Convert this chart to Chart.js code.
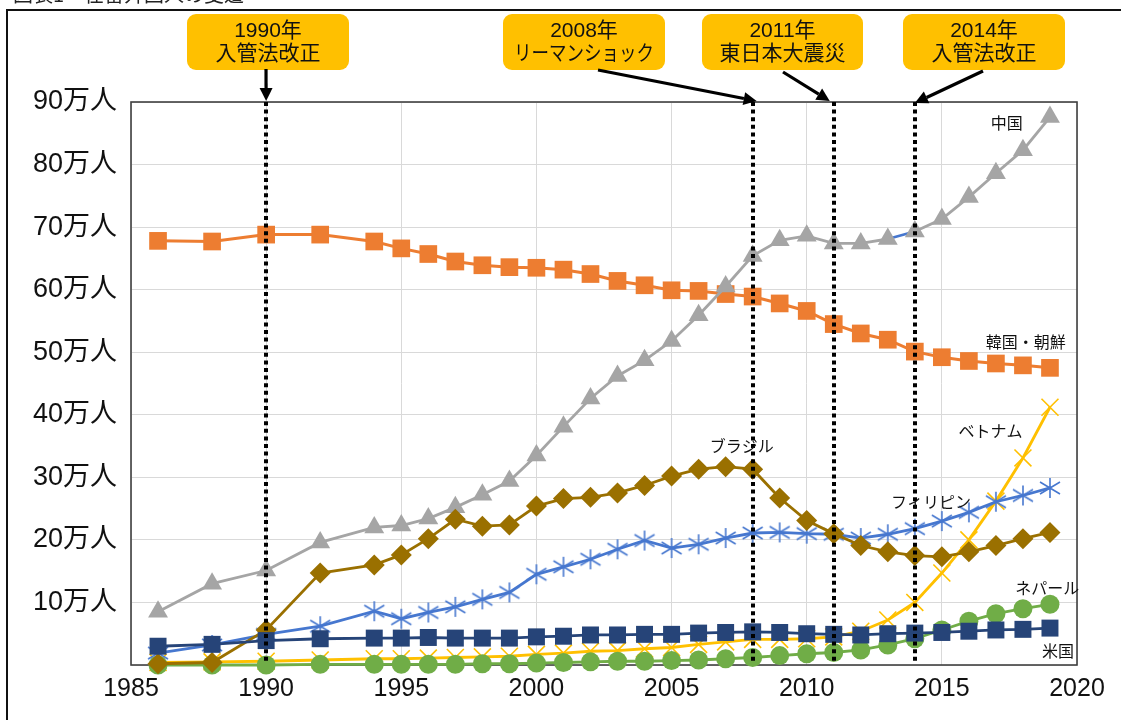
<!DOCTYPE html>
<html>
<head>
<meta charset="utf-8">
<script src="https://cdn.jsdelivr.net/npm/chart.js@4.4.1/dist/chart.umd.min.js"></script>
<style>
  html, body { margin: 0; padding: 0; background: #ffffff; }
  canvas { display: block; }
</style>
</head>
<body>
<canvas id="chart" width="1121" height="720"></canvas>
<script>
// 在留外国人数（万人）の推移
const years = [1986, 1988, 1990, 1992, 1994, 1995, 1996, 1997, 1998, 1999,
               2000, 2001, 2002, 2003, 2004, 2005, 2006, 2007, 2008, 2009,
               2010, 2011, 2012, 2013, 2014, 2015, 2016, 2017, 2018, 2019];

const china = [8.5, 13.0, 15.1, 19.6, 22.0, 22.3, 23.4, 25.2, 27.2, 29.4,
               33.5, 38.1, 42.6, 46.2, 48.7, 51.8, 55.9, 60.5, 65.4, 67.9,
               68.6, 67.4, 67.4, 68.1, 69.3, 71.3, 74.8, 78.6, 82.3, 87.6];
const korea = [67.8, 67.7, 68.8, 68.8, 67.7, 66.6, 65.7, 64.5, 63.9, 63.6,
               63.5, 63.2, 62.5, 61.4, 60.7, 59.9, 59.8, 59.3, 58.9, 57.8,
               56.6, 54.5, 53.0, 52.0, 50.1, 49.2, 48.6, 48.2, 47.9, 47.5];
const brazil = [0.2, 0.4, 5.6, 14.7, 16.0, 17.6, 20.2, 23.3, 22.2, 22.4,
                25.4, 26.6, 26.8, 27.5, 28.7, 30.2, 31.3, 31.7, 31.3, 26.7,
                23.1, 21.0, 19.1, 18.1, 17.5, 17.3, 18.1, 19.1, 20.2, 21.2];
const philippines = [1.9, 3.2, 4.9, 6.2, 8.6, 7.4, 8.4, 9.3, 10.5, 11.6,
                     14.5, 15.7, 16.9, 18.5, 19.9, 18.7, 19.3, 20.3, 21.1, 21.2,
                     21.0, 20.9, 20.3, 20.9, 21.8, 23.0, 24.4, 26.1, 27.1, 28.3];
const vietnam = [0.4, 0.5, 0.6, 0.8, 1.0, 1.0, 1.1, 1.2, 1.3, 1.4,
                 1.7, 1.9, 2.2, 2.3, 2.6, 2.8, 3.3, 3.7, 4.1, 4.1,
                 4.2, 4.5, 5.4, 7.2, 10.0, 14.7, 20.0, 26.2, 33.1, 41.2];
const nepal = [0.0, 0.0, 0.0, 0.1, 0.1, 0.1, 0.1, 0.1, 0.2, 0.2,
               0.3, 0.4, 0.5, 0.6, 0.6, 0.7, 0.8, 1.0, 1.2, 1.5,
               1.8, 2.0, 2.4, 3.2, 4.2, 5.6, 7.0, 8.2, 9.0, 9.7];
const usa = [3.0, 3.3, 3.9, 4.2, 4.3, 4.3, 4.4, 4.3, 4.3, 4.3,
             4.5, 4.6, 4.8, 4.8, 4.9, 4.9, 5.1, 5.2, 5.3, 5.2,
             5.0, 4.9, 4.8, 5.0, 5.1, 5.2, 5.4, 5.6, 5.7, 5.9];

const seriesNames = ['中国', '韓国・朝鮮', 'ブラジル', 'フィリピン', 'ベトナム', 'ネパール', '米国'];

const xTickLabels = ['1985', '1990', '1995', '2000', '2005', '2010', '2015', '2020'];
const yTickLabels = ['', '10万人', '20万人', '30万人', '40万人', '50万人', '60万人', '70万人', '80万人', '90万人'];

const eventYears  = [1990, 2008, 2011, 2014];
const eventTitles = ['1990年', '2008年', '2011年', '2014年'];
const eventNotes  = ['入管法改正', 'リーマンショック', '東日本大震災', '入管法改正'];

const figureTitle = '図表1　在留外国人の変遷';

// where each series name sits, in chart units [year, 万人]
const nameSpots = [[2017.4, 86.6], [2018.1, 51.7], [2007.6, 35.0], [2014.6, 26.0],
                   [2016.8, 37.4], [2018.9, 12.3], [2019.3, 2.2]];

const FONT = "'Liberation Sans', 'Noto Sans CJK JP', sans-serif";

const pts = vals => years.map((y, i) => ({ x: y, y: vals[i] }));

// asterisk marker: X plus a vertical bar
function asteriskMarker(color) {
  const c = document.createElement('canvas');
  c.width = 24; c.height = 22;
  const g = c.getContext('2d');
  g.strokeStyle = color;
  g.lineWidth = 1.6;
  g.beginPath();
  g.moveTo(12, 1);  g.lineTo(12, 21);
  g.moveTo(2, 5);   g.lineTo(22, 17);
  g.moveTo(2, 17);  g.lineTo(22, 5);
  g.stroke();
  return c;
}

const C = {
  china: '#a5a5a5', korea: '#ed7d31', brazil: '#9a7000', phil: '#4677cf',
  viet: '#ffc000', nepal: '#70ad47', usa: '#264478', box: '#ffc000'
};

function arrow(ctx, x1, y1, x2, y2) {
  const ang = Math.atan2(y2 - y1, x2 - x1);
  const len = 13, half = 6.5;
  const bx = x2 - Math.cos(ang) * len, by = y2 - Math.sin(ang) * len;
  ctx.beginPath();
  ctx.moveTo(x1, y1);
  ctx.lineTo(bx, by);
  ctx.stroke();
  ctx.beginPath();
  ctx.moveTo(x2, y2);
  ctx.lineTo(bx + Math.sin(ang) * half, by - Math.cos(ang) * half);
  ctx.lineTo(bx - Math.sin(ang) * half, by + Math.cos(ang) * half);
  ctx.closePath();
  ctx.fill();
}

function roundRect(ctx, x, y, w, h, r) {
  ctx.beginPath();
  ctx.moveTo(x + r, y);
  ctx.arcTo(x + w, y, x + w, y + h, r);
  ctx.arcTo(x + w, y + h, x, y + h, r);
  ctx.arcTo(x, y + h, x, y, r);
  ctx.arcTo(x, y, x + w, y, r);
  ctx.closePath();
}

const decorations = {
  id: 'decorations',
  beforeDraw(chart) {
    const ctx = chart.ctx;
    ctx.save();
    ctx.fillStyle = '#ffffff';
    ctx.fillRect(0, 0, chart.width, chart.height);
    // figure title, mostly above the page edge
    ctx.fillStyle = '#222';
    ctx.font = "20px 'Noto Sans CJK JP', sans-serif";
    ctx.textBaseline = 'ideographic';
    ctx.textAlign = 'left';
    ctx.fillText(figureTitle, 13, 4);
    // outer frame
    ctx.strokeStyle = '#111';
    ctx.lineWidth = 2;
    ctx.strokeRect(7, 10, chart.width + 20, chart.height + 20);
    ctx.restore();
  },
  beforeDatasetsDraw(chart) {
    const { ctx, chartArea: a } = chart;
    ctx.save();
    ctx.strokeStyle = '#404040';
    ctx.lineWidth = 1.6;
    ctx.strokeRect(a.left, a.top, a.right - a.left, a.bottom - a.top);
    ctx.restore();
  },
  afterDatasetsDraw(chart) {
    const { ctx, chartArea: a, scales } = chart;
    ctx.save();
    // event markers
    ctx.strokeStyle = '#000';
    ctx.lineWidth = 4;
    ctx.setLineDash([4, 3.6]);
    eventYears.forEach(yr => {
      const x = Math.round(scales.x.getPixelForValue(yr));
      ctx.beginPath();
      ctx.moveTo(x, a.top);
      ctx.lineTo(x, a.bottom - 1);
      ctx.stroke();
    });
    ctx.setLineDash([]);
    // series names
    ctx.fillStyle = '#111';
    ctx.font = "16px 'Noto Sans CJK JP', sans-serif";
    ctx.textAlign = 'center';
    ctx.textBaseline = 'middle';
    seriesNames.forEach((n, i) => {
      const [yr, v] = nameSpots[i];
      ctx.fillText(n, scales.x.getPixelForValue(yr), scales.y.getPixelForValue(v));
    });
    ctx.restore();
  },
  afterDraw(chart) {
    const { ctx, chartArea: a, scales } = chart;
    const boxes = [
      { x: 187, w: 162, from: [266, 69],  dx: 0,  toY: a.top - 1 },
      { x: 503, w: 162, from: [598, 70],  dx: 4,  toY: a.top - 1 },
      { x: 702, w: 161, from: [783, 72],  dx: -4, toY: a.top - 1 },
      { x: 903, w: 162, from: [983, 71],  dx: 0,  toY: a.top + 1 }
    ];
    ctx.save();
    boxes.forEach((b, i) => {
      ctx.fillStyle = C.box;
      roundRect(ctx, b.x, 14, b.w, 56, 9);
      ctx.fill();
      ctx.fillStyle = '#111';
      ctx.font = "21px " + FONT;
      ctx.textAlign = 'center';
      ctx.textBaseline = 'middle';
      const cx = b.x + b.w / 2;
      ctx.fillText(eventTitles[i], cx, 31);
      ctx.fillText(eventNotes[i], cx, 54, 140);
      ctx.strokeStyle = '#000';
      ctx.fillStyle = '#000';
      ctx.lineWidth = 3.2;
      const tx = scales.x.getPixelForValue(eventYears[i]) + b.dx;
      arrow(ctx, b.from[0], b.from[1], tx, b.toY);
    });
    ctx.restore();
  }
};

const baseSet = (label, vals, color, extra) => Object.assign({
  label, data: pts(vals), borderColor: color, backgroundColor: color,
  pointBorderColor: color, pointBackgroundColor: color,
  borderWidth: 2.8, pointBorderWidth: 0, clip: false, tension: 0
}, extra);

new Chart(document.getElementById('chart'), {
  type: 'line',
  data: {
    datasets: [
      baseSet(seriesNames[0], china, C.china, {
        pointStyle: 'triangle', pointRadius: 11.5, order: 3,
        segment: { borderColor: s => s.p0.parsed.x === 2013 ? C.phil : undefined }
      }),
      baseSet(seriesNames[1], korea, C.korea, { pointStyle: 'rect', pointRadius: 12.5, order: 4, borderWidth: 3 }),
      baseSet(seriesNames[2], brazil, C.brazil, { pointStyle: 'rectRot', pointRadius: 10.5, order: 1 }),
      baseSet(seriesNames[3], philippines, C.phil, { pointStyle: asteriskMarker(C.phil), pointRadius: 11, order: 2 }),
      baseSet(seriesNames[4], vietnam, C.viet, { pointStyle: 'crossRot', pointRadius: 12, pointBorderWidth: 1.6, order: 6 }),
      baseSet(seriesNames[5], nepal, C.nepal, { pointStyle: 'circle', pointRadius: 9.5, order: 5 }),
      baseSet(seriesNames[6], usa, C.usa, { pointStyle: 'rect', pointRadius: 12, order: 0 })
    ]
  },
  options: {
    responsive: false,
    animation: false,
    devicePixelRatio: 1,
    layout: { padding: { top: 102, right: 44, left: 0, bottom: 0 } },
    plugins: { legend: { display: false }, tooltip: { enabled: false } },
    scales: {
      x: {
        type: 'linear', min: 1985, max: 2020,
        grid: { color: '#d9d9d9', lineWidth: 1, drawTicks: false },
        border: { display: false },
        ticks: {
          stepSize: 5, autoSkip: false, maxRotation: 0, padding: 9,
          color: '#111', font: { family: FONT, size: 25 },
          callback: v => xTickLabels[Math.round((v - 1985) / 5)]
        },
        afterFit: s => { s.height = 55; }
      },
      y: {
        min: 0, max: 90,
        grid: { color: '#d9d9d9', lineWidth: 1, drawTicks: false },
        border: { display: false },
        ticks: {
          stepSize: 10, padding: 14,
          color: '#111', font: { family: FONT, size: 27 },
          callback: v => yTickLabels[Math.round(v / 10)]
        },
        afterFit: s => { s.width = 131; }
      }
    }
  },
  plugins: [decorations]
});
</script>
</body>
</html>
